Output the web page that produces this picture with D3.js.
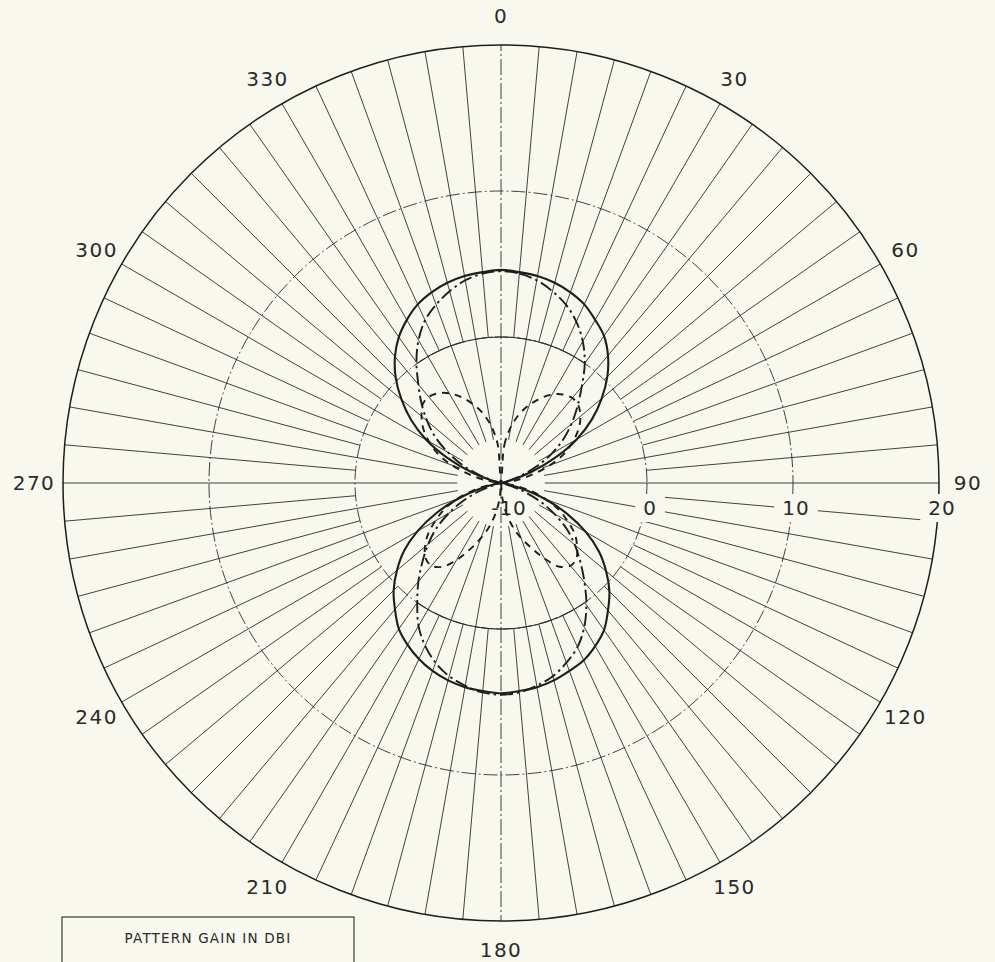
<!DOCTYPE html>
<html>
<head>
<meta charset="utf-8">
<script src="https://cdn.jsdelivr.net/npm/d3@7/dist/d3.min.js"></script>
<style>
  html, body { margin: 0; padding: 0; background: #f8f8ee; }
  svg { display: block; }
</style>
</head>
<body>
<svg id="chart" width="995" height="962"></svg>
<script>
// Bearing of each sample, degrees clockwise from 0 (top)
const angleDeg = [
    0,   5,  10,  15,  20,  25,  30,  35,  40,  45,  50,  55,  60,  65,  70,  75,  80,  85,
   90,  95, 100, 105, 110, 115, 120, 125, 130, 135, 140, 145, 150, 155, 160, 165, 170, 175,
  180, 185, 190, 195, 200, 205, 210, 215, 220, 225, 230, 235, 240, 245, 250, 255, 260, 265,
  270, 275, 280, 285, 290, 295, 300, 305, 310, 315, 320, 325, 330, 335, 340, 345, 350, 355
];

// Pattern gain (dBi), solid trace
const gainSolid = [
   4.6,  4.5,  4.4,  4.2,  3.9,  3.5,  2.9,  2.3,  1.4,  0.3, -1.0, -2.4, -4.0, -5.9, -7.8, -9.3, -10,  -10,
  -10,  -10,  -9.7, -8.6, -6.8, -5.0, -3.3, -1.8, -0.6,  0.5,  1.4,  2.3,  2.9,  3.4,  3.7,  4.0,  4.2,  4.3,
   4.4,  4.3,  4.2,  4.0,  3.7,  3.3,  2.8,  2.2,  1.3,  0.4, -0.7, -1.9, -3.4, -5.1, -6.9, -8.6, -9.7, -10,
  -10,  -10,  -10,  -9.4, -7.9, -6.0, -4.1, -2.5, -1.1,  0.2,  1.3,  2.2,  2.9,  3.5,  3.9,  4.2,  4.4,  4.5
];

// Pattern gain (dBi), dash-dot trace
const gainDashDot = [
   4.5,  4.4,  4.1,  3.6,  3.0,  2.2,  1.2,  0.0, -1.4, -2.6, -3.7, -4.8, -6.0, -7.3, -8.6, -9.6, -10,  -10,
  -10,  -10,  -10,  -9.6, -8.5, -7.1, -5.8, -4.5, -3.4, -2.3, -1.1,  0.2,  1.4,  2.4,  3.1,  3.7,  4.1,  4.4,
   4.5,  4.4,  4.1,  3.7,  3.1,  2.3,  1.3,  0.0, -1.2, -2.4, -3.5, -4.6, -5.9, -7.2, -8.6, -9.7, -10,  -10,
  -10,  -10,  -10,  -9.6, -8.5, -7.1, -5.8, -4.5, -3.4, -2.3, -1.2,  0.1,  1.3,  2.3,  3.0,  3.6,  4.1,  4.4
];

// Pattern gain (dBi), dashed trace
const gainDashed = [
  -10,  -7.4, -6.1, -5.1, -4.3, -3.6, -3.0, -2.6, -2.4, -2.5, -2.9, -3.5, -4.3, -5.2, -6.4, -7.8, -9.0, -10,
  -10,  -10,  -9.2, -7.9, -6.7, -5.6, -4.7, -3.8, -3.2, -2.7, -2.6, -3.0, -4.0, -5.1, -6.0, -6.9, -7.9, -9.0,
  -10,  -9.0, -7.9, -6.9, -6.0, -5.0, -3.9, -3.0, -2.6, -2.7, -3.2, -3.9, -4.8, -5.7, -6.8, -8.0, -9.2, -10,
  -10,  -10,  -9.0, -7.8, -6.4, -5.2, -4.3, -3.5, -2.9, -2.4, -2.3, -2.5, -2.9, -3.5, -4.2, -5.0, -6.0, -7.3
];

// Gain rings and their labels
const ringValues = [-10, 0, 10, 20];
const ringLabels = ["-10", "0", "10", "20"];

// Bearing labels round the rim
const bearingTicks  = [0, 30, 60, 90, 120, 150, 180, 210, 240, 270, 300, 330];
const bearingLabels = ["0", "30", "60", "90", "120", "150", "180", "210", "240", "270", "300", "330"];

const legendTitle = "PATTERN GAIN IN DBI";

// ---- layout ----
const paper = "#f8f8ee";
const ink = "#1e1e1e";
const cx = 501, cy = 483, R = 438;

const svg = d3.select("#chart");
svg.append("rect").attr("width", 995).attr("height", 962).attr("fill", paper);

const rScale = d3.scaleLinear().domain([-10, 20]).range([0, R]).clamp(true);
const toRad = d3.scaleLinear().domain([0, 360]).range([0, 2 * Math.PI]);

const g = svg.append("g").attr("transform", `translate(${cx},${cy})`);

const px = (deg, rr) => rr * Math.sin(toRad(deg));
const py = (deg, rr) => -rr * Math.cos(toRad(deg));

// ---- spokes every 5 degrees ----
const spokeAngles = d3.range(0, 360, 5);
const spokes = g.append("g").attr("class", "spokes");
spokes.selectAll("line")
  .data(spokeAngles.filter(a => a % 180 !== 0))
  .join("line")
  .attr("x1", a => px(a, a % 10 === 0 ? rScale(-7) : rScale(0)))
  .attr("y1", a => py(a, a % 10 === 0 ? rScale(-7) : rScale(0)))
  .attr("x2", a => px(a, R))
  .attr("y2", a => py(a, R))
  .attr("stroke", "#2c2c2c")
  .attr("stroke-width", 0.9);

// main axis (0 - 180) drawn chain-dotted through the centre
spokes.selectAll("line.axis")
  .data([0, 180])
  .join("line")
  .attr("class", "axis")
  .attr("x1", 0).attr("y1", 0)
  .attr("x2", a => px(a, R))
  .attr("y2", a => py(a, R))
  .attr("stroke", "#2c2c2c")
  .attr("stroke-width", 0.9)
  .attr("stroke-dasharray", "16,3,2,3");

// ---- gain rings ----
const rings = g.append("g").attr("class", "rings");
rings.selectAll("circle.inner")
  .data([0, 10])
  .join("circle")
  .attr("class", "inner")
  .attr("r", d => rScale(d))
  .attr("fill", "none")
  .attr("stroke", "#2c2c2c")
  .attr("stroke-width", 0.9)
  .attr("stroke-dasharray", "14,3,2,3");

rings.append("circle")
  .attr("r", rScale(20))
  .attr("fill", "none")
  .attr("stroke", ink)
  .attr("stroke-width", 1.5);

// the 0 dB ring is drawn solid where it runs inside the main lobes
const arcLine = d3.lineRadial()
  .angle(d => toRad(d))
  .radius(() => rScale(0))
  .curve(d3.curveLinear);
[[-35, 35], [145, 215]].forEach(([a0, a1]) => {
  rings.append("path")
    .attr("d", arcLine(d3.range(a0, a1 + 0.5, 1)))
    .attr("fill", "none")
    .attr("stroke", "#2c2c2c")
    .attr("stroke-width", 1.1);
});

// ---- pattern traces ----
const trace = d3.lineRadial()
  .angle(d => toRad(d.a))
  .radius(d => rScale(d.v))
  .curve(d3.curveCatmullRomClosed.alpha(0.5));

const series = [
  { values: gainSolid,   dash: null,          width: 2.1 },
  { values: gainDashDot, dash: "13,4,2.5,4",  width: 1.9 },
  { values: gainDashed,  dash: "7,6",         width: 1.9 }
];

g.append("g").attr("class", "traces")
  .selectAll("path")
  .data(series)
  .join("path")
  .attr("d", s => trace(angleDeg.map((a, i) => ({ a, v: s.values[i] }))))
  .attr("fill", "none")
  .attr("stroke", ink)
  .attr("stroke-width", s => s.width)
  .attr("stroke-linejoin", "round")
  .attr("stroke-dasharray", s => s.dash);

// ---- ring labels, set just below the 90 degree spoke ----
const ringLab = g.append("g").attr("class", "ring-labels")
  .attr("font-family", "'DejaVu Sans', sans-serif")
  .attr("font-size", 20)
  .attr("fill", "#2a2a2a");

ringValues.forEach((v, i) => {
  const x = rScale(v) + (i === 0 ? 8 : 3);
  const y = 25;
  const t = ringLab.append("text")
    .attr("x", x).attr("y", y)
    .attr("text-anchor", "middle")
    .attr("dominant-baseline", "central")
    .attr("letter-spacing", 1)
    .text(ringLabels[i]);
  if (i > 0) {
    const b = t.node().getBBox();
    ringLab.insert("rect", "text")
      .attr("x", b.x - 8).attr("y", b.y - 2)
      .attr("width", b.width + 16).attr("height", b.height + 4)
      .attr("fill", paper);
  }
});

// ---- bearing labels ----
const labR = 467;
g.append("g").attr("class", "bearing-labels")
  .attr("font-family", "'DejaVu Sans', sans-serif")
  .attr("font-size", 20)
  .attr("fill", "#2a2a2a")
  .selectAll("text")
  .data(bearingTicks)
  .join("text")
  .attr("x", a => px(a, labR))
  .attr("y", a => py(a, labR))
  .attr("text-anchor", "middle")
  .attr("dominant-baseline", "central")
  .attr("letter-spacing", 1.5)
  .text((a, i) => bearingLabels[i]);

// ---- legend box ----
const legend = svg.append("g").attr("class", "legend");
legend.append("rect")
  .attr("x", 62).attr("y", 917)
  .attr("width", 292).attr("height", 120)
  .attr("fill", paper)
  .attr("stroke", "#2a2a2a")
  .attr("stroke-width", 1.1);
legend.append("text")
  .attr("x", 208).attr("y", 943)
  .attr("text-anchor", "middle")
  .attr("font-family", "'DejaVu Sans', sans-serif")
  .attr("font-size", 13.5)
  .attr("letter-spacing", 1.2)
  .attr("fill", "#2a2a2a")
  .text(legendTitle);
</script>
</body>
</html>
